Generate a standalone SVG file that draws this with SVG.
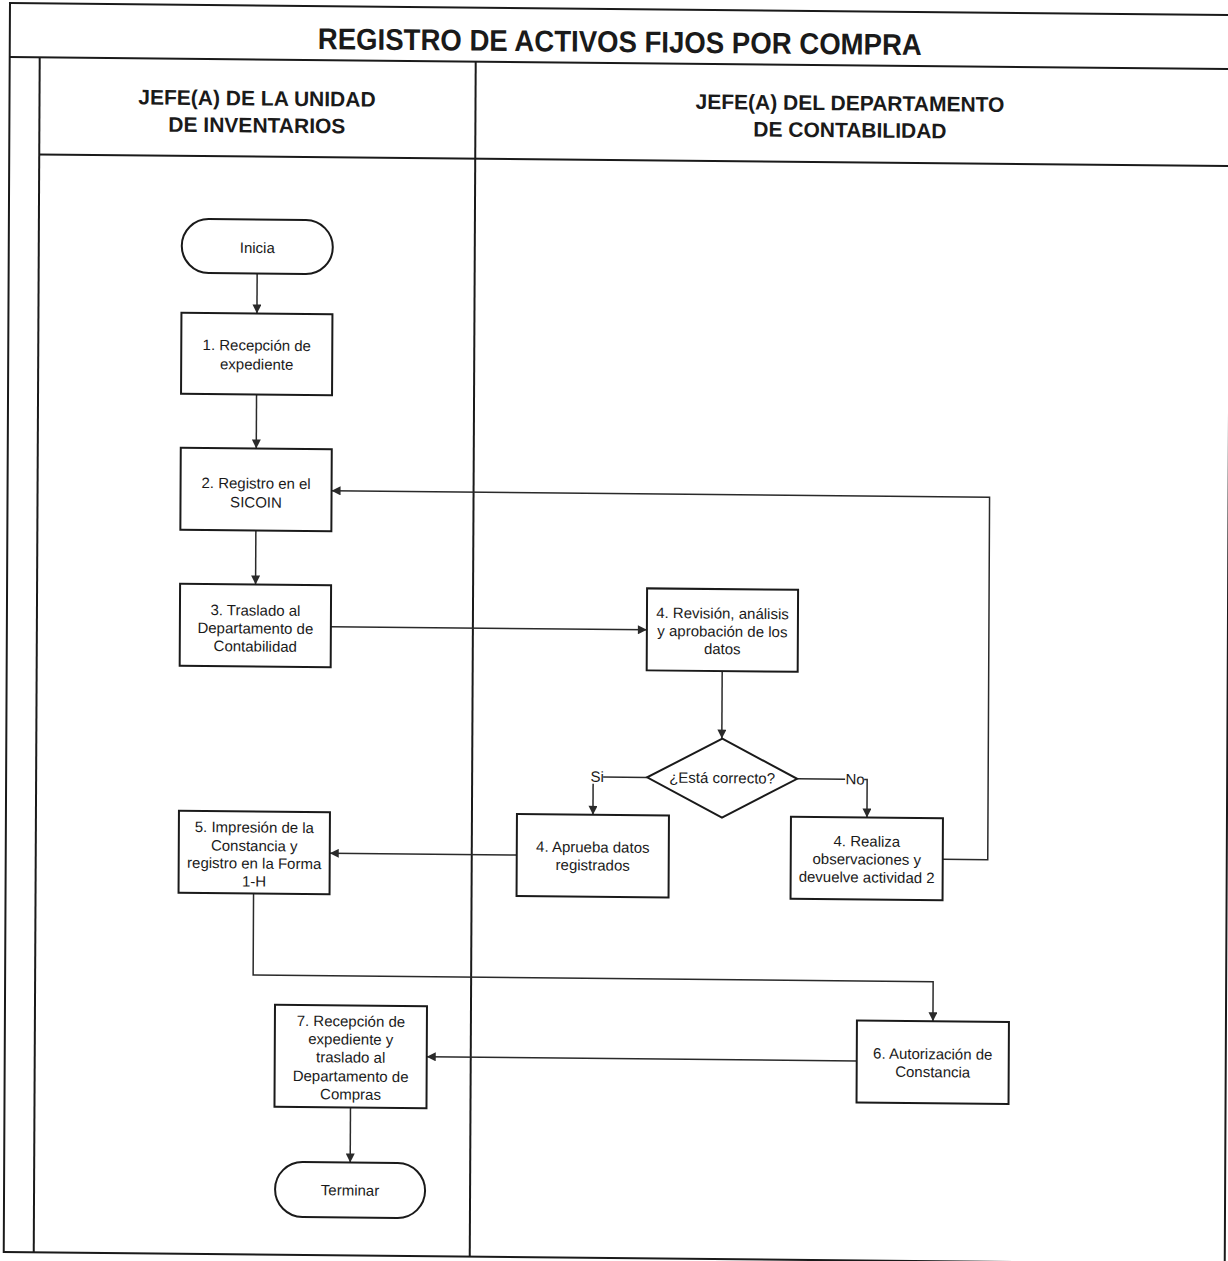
<svg xmlns="http://www.w3.org/2000/svg" width="1228" height="1261" viewBox="0 0 1228 1261">
<style>
.frame{fill:none;stroke:#1a1a1a;stroke-width:2}
.box{fill:#fff;stroke:#1a1a1a;stroke-width:2}
.ln{fill:none;stroke:#2a2a2a;stroke-width:1.5}
.t{font-family:"Liberation Sans",Arial,sans-serif;font-size:15px;fill:#1a1a1a;text-anchor:middle}
.h{font-family:"Liberation Sans",Arial,sans-serif;font-size:21px;font-weight:bold;fill:#1a1a1a;text-anchor:middle}
.title{font-family:"Liberation Sans",Arial,sans-serif;font-size:30px;font-weight:bold;fill:#1a1a1a;text-anchor:middle}
</style>
<defs>
<marker id="arr" viewBox="0 0 10 10" refX="10" refY="5" markerWidth="10" markerHeight="9" markerUnits="userSpaceOnUse" orient="auto">
<path d="M0,0 L10,5 L0,10 z" fill="#2a2a2a"/>
</marker>
</defs>
<rect width="1228" height="1261" fill="#fff"/>
<g transform="matrix(1,0.0098,-0.005,1,0,0)">
<g id="frame">
<rect class="frame" x="10" y="3" width="1221" height="1249"/>
<line class="frame" x1="10" y1="57" x2="1231" y2="57"/>
<line class="frame" x1="40" y1="57" x2="40" y2="1252"/>
<line class="frame" x1="40" y1="154" x2="1231" y2="154"/>
<line class="frame" x1="476" y1="57" x2="476" y2="1252"/>
<text class="title" x="620" y="46" textLength="604" lengthAdjust="spacingAndGlyphs">REGISTRO DE ACTIVOS FIJOS POR COMPRA</text>
<text class="h" x="257.5" y="103">JEFE(A) DE LA UNIDAD</text>
<text class="h" x="257.5" y="130">DE INVENTARIOS</text>
<text class="h" x="850.5" y="102">JEFE(A) DEL DEPARTAMENTO</text>
<text class="h" x="850.5" y="129">DE CONTABILIDAD</text>
</g>
<g id="connectors">
<path class="ln" d="M258.5,271 V311" marker-end="url(#arr)"/>
<path class="ln" d="M258.5,392 V446" marker-end="url(#arr)"/>
<path class="ln" d="M258.5,528 V582" marker-end="url(#arr)"/>
<path class="ln" d="M334,623.5 H650" marker-end="url(#arr)"/>
<path class="ln" d="M725.5,664 V731.5" marker-end="url(#arr)"/>
<path class="ln" d="M651,771 H607"/>
<path class="ln" d="M597,778 V809" marker-end="url(#arr)"/>
<path class="ln" d="M801,771 H849"/>
<path class="ln" d="M868,771 H871 V809" marker-end="url(#arr)"/>
<path class="ln" d="M947,850 H992 V487.5 H334" marker-end="url(#arr)"/>
<path class="ln" d="M521,850 H334" marker-end="url(#arr)"/>
<path class="ln" d="M258,891 V972.5 H938 V1012" marker-end="url(#arr)"/>
<path class="ln" d="M862,1052.5 H432" marker-end="url(#arr)"/>
<path class="ln" d="M356,1104 V1159" marker-end="url(#arr)"/>
<text class="t" x="601" y="776">Si</text>
<text class="t" x="859" y="776">No</text>
</g>
<g id="inicia">
<rect class="box" x="183" y="217" width="151" height="54" rx="27" ry="27"/>
<text class="t" x="258.5" y="250.5">Inicia</text>
</g>
<g id="n1">
<rect class="box" x="183" y="311" width="151" height="81"/>
<text class="t" x="258.5" y="348">1. Recepción de</text>
<text class="t" x="258.5" y="367">expediente</text>
</g>
<g id="n2">
<rect class="box" x="183" y="446" width="151" height="82"/>
<text class="t" x="258.5" y="486">2. Registro en el</text>
<text class="t" x="258.5" y="505">SICOIN</text>
</g>
<g id="n3">
<rect class="box" x="183" y="582" width="151" height="82"/>
<text class="t" x="258.5" y="613">3. Traslado al</text>
<text class="t" x="258.5" y="631">Departamento de</text>
<text class="t" x="258.5" y="649">Contabilidad</text>
</g>
<g id="n4">
<rect class="box" x="650" y="582" width="151" height="82"/>
<text class="t" x="725.5" y="611.5">4. Revisión, análisis</text>
<text class="t" x="725.5" y="629.5">y aprobación de los</text>
<text class="t" x="725.5" y="647">datos</text>
</g>
<g id="decision">
<polygon class="box" points="726,731.5 801,771 726,810.5 651,771"/>
<text class="t" x="726" y="776">¿Está correcto?</text>
</g>
<g id="n4a">
<rect class="box" x="521" y="809" width="152" height="82"/>
<text class="t" x="597" y="846.5">4. Aprueba datos</text>
<text class="t" x="597" y="864.5">registrados</text>
</g>
<g id="n4b">
<rect class="box" x="795" y="809" width="152" height="82"/>
<text class="t" x="871" y="838">4. Realiza</text>
<text class="t" x="871" y="856">observaciones y</text>
<text class="t" x="871" y="874">devuelve actividad 2</text>
</g>
<g id="n5">
<rect class="box" x="183" y="809" width="151" height="82"/>
<text class="t" x="258.5" y="830">5. Impresión de la</text>
<text class="t" x="258.5" y="848.5">Constancia y</text>
<text class="t" x="258.5" y="866">registro en la Forma</text>
<text class="t" x="258.5" y="884">1-H</text>
</g>
<g id="n6">
<rect class="box" x="862" y="1012" width="152" height="82"/>
<text class="t" x="938" y="1050">6. Autorización de</text>
<text class="t" x="938" y="1068">Constancia</text>
</g>
<g id="n7">
<rect class="box" x="280" y="1002" width="152" height="102"/>
<text class="t" x="356" y="1023">7. Recepción de</text>
<text class="t" x="356" y="1041">expediente y</text>
<text class="t" x="356" y="1059">traslado al</text>
<text class="t" x="356" y="1078">Departamento de</text>
<text class="t" x="356" y="1096">Compras</text>
</g>
<g id="terminar">
<rect class="box" x="281" y="1159" width="150" height="55" rx="27.5" ry="27.5"/>
<text class="t" x="356" y="1192">Terminar</text>
</g>
</g>
</svg>
